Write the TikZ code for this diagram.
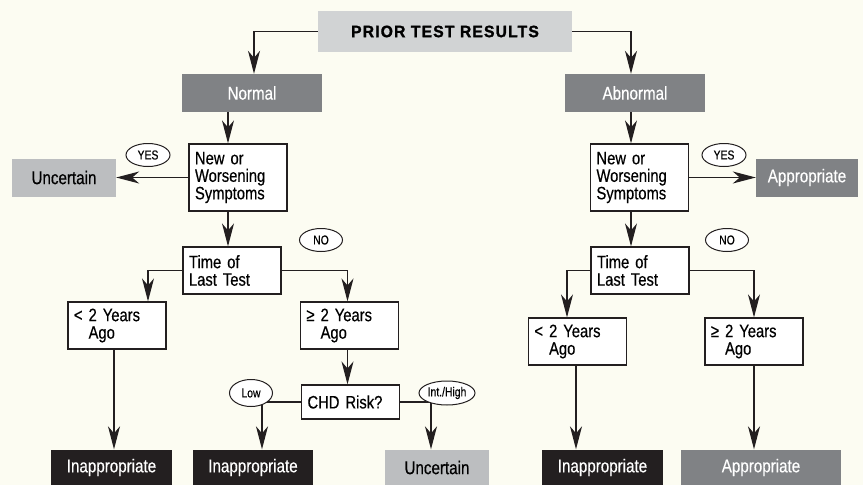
\documentclass[tikz,border=0pt]{standalone}
\usepackage{fontspec}
\setmainfont[FakeStretch=0.82,FakeBold=0.4]{Liberation Sans}
\newfontfamily\headfont[FakeStretch=0.95,LetterSpace=7,FakeBold=1.5]{Liberation Sans}
\newfontfamily\smallfont[FakeStretch=0.8,FakeBold=0.3]{Liberation Sans}
\usetikzlibrary{
    arrows.meta,
    shapes.geometric,
    calc,
    positioning
}
\definecolor{paper}{HTML}{FCFCF2}
\definecolor{titlegray}{HTML}{D1D3D4}
\definecolor{midgray}{HTML}{808285}
\definecolor{lightgray}{HTML}{BCBEC0}
\definecolor{inkblack}{HTML}{231F20}
\tikzset{
    box/.style={draw=inkblack, fill=white, line width=1.2pt, align=left,
        text width=86pt, inner xsep=6pt, inner ysep=0pt,
        font=\fontsize{18}{17.5}\selectfont},
    result/.style={inner sep=0pt, minimum height=36pt,
        font=\fontsize{18.5}{18.5}\selectfont},
    answer/.style={ellipse, draw=inkblack, fill=white, line width=1pt,
        inner sep=0pt, minimum height=23pt, font=\smallfont\fontsize{13}{13}\selectfont},
    flow/.style={draw=inkblack, line width=1.2pt,
        -{Stealth[length=23pt, width=12pt, inset=7pt]}}
}

\begin{document}
\begin{tikzpicture}[x=1pt, y=-1pt]
    \useasboundingbox[fill=paper] (0,0) rectangle (863,485);
    \node[result, fill=titlegray, minimum width=254pt, minimum height=41pt,
        font=\headfont\bfseries\fontsize{16.5}{16.5}\selectfont] (title) at (445, 31.5) {PRIOR TEST RESULTS};
    \node[result, fill=midgray, text=white, minimum width=140pt, minimum height=38pt] (normal) at (252, 93) {Normal};
    \node[result, fill=midgray, text=white, minimum width=140pt, minimum height=38pt] (abnormal) at (635, 93) {Abnormal};

    % normal branch
    \node[box, minimum height=67pt] (nwsL) at (238, 177.5) {New or\\Worsening\\Symptoms};
    \node[result, fill=lightgray, minimum width=104pt, minimum height=38pt] (uncL) at (64, 177.5) {Uncertain};
    \node[box, minimum height=47pt] (timeL) at (232, 270.5) {Time of\\Last Test};
    \node[box, minimum height=47pt] (lessL) at (117, 325.5) {< 2 Years\\\hphantom{< }Ago};
    \node[box, minimum height=47pt] (geqL) at (349.5, 325.5) {≥ 2 Years\\\hphantom{≥ }Ago};
    \node[box, minimum height=34pt] (chd) at (350.5, 402) {CHD Risk?};
    \node[result, fill=inkblack, text=white, minimum width=121pt] (inapL1) at (111.5, 467.5) {Inappropriate};
    \node[result, fill=inkblack, text=white, minimum width=120pt] (inapL2) at (253, 467.5) {Inappropriate};
    \node[result, fill=lightgray, minimum width=104pt] (uncB) at (437, 467.5) {Uncertain};

    % abnormal branch
    \node[box, minimum height=67pt] (nwsR) at (639.5, 177.5) {New or\\Worsening\\Symptoms};
    \node[result, fill=midgray, text=white, minimum width=102pt, minimum height=38pt] (apprR) at (807, 177.5) {Appropriate};
    \node[box, minimum height=47pt] (timeR) at (640, 270.5) {Time of\\Last Test};
    \node[box, minimum height=47pt] (lessR) at (577.5, 341.5) {< 2 Years\\\hphantom{< }Ago};
    \node[box, minimum height=47pt] (geqR) at (754, 341.5) {≥ 2 Years\\\hphantom{≥ }Ago};
    \node[result, fill=inkblack, text=white, minimum width=121pt] (inapR) at (602.5, 467.5) {Inappropriate};
    \node[result, fill=midgray, text=white, minimum width=160pt] (apprB) at (761, 467.5) {Appropriate};

    \draw[flow] (title.west) -| ([xshift=2pt]normal.north);
    \draw[flow] (title.east) -| ([xshift=-4pt]abnormal.north);
    \draw[flow] ([xshift=-10pt]nwsL.north |- normal.south) -- ([xshift=-10pt]nwsL.north);
    \draw[flow] (nwsL.west) -- (uncL.east);
    \draw[flow] ([xshift=-10pt]nwsL.south) -- ([xshift=-10pt]nwsL.south |- timeL.north);
    \draw[flow] (timeL.west) -| ([xshift=31pt]lessL.north);
    \draw[flow] (timeL.east) -| ([xshift=-2pt]geqL.north);
    \draw[flow] ([xshift=-3pt]lessL.south) -- ([xshift=-3pt]lessL.south |- inapL1.north);
    \draw[flow] ([xshift=-2pt]geqL.south) -- ([xshift=-2pt]geqL.south |- chd.north);
    \draw[flow] (chd.west) -| ([xshift=9pt]inapL2.north);
    \draw[flow] (chd.east) -| ([xshift=-6pt]uncB.north);

    \draw[flow] ([xshift=-8.5pt]nwsR.north |- abnormal.south) -- ([xshift=-8.5pt]nwsR.north);
    \draw[flow] (nwsR.east) -- (apprR.west);
    \draw[flow] ([xshift=-8.5pt]nwsR.south) -- ([xshift=-8.5pt]nwsR.south |- timeR.north);
    \draw[flow] (timeR.west) -| ([xshift=-10.5pt]lessR.north);
    \draw[flow] (timeR.east) -| (geqR.north);
    \draw[flow] ([xshift=-1.5pt]lessR.south) -- ([xshift=-1.5pt]lessR.south |- inapR.north);
    \draw[flow] (geqR.south) -- (geqR.south |- apprB.north);

    % answer labels
    \node[answer, minimum width=44pt] (yesL) at (148, 155) {YES};
    \node[answer, minimum width=43pt] (noL) at (321, 240) {NO};
    \node[answer, minimum width=43pt, minimum height=27pt] (low) at (251, 393) {Low};
    \node[answer, minimum width=56pt, minimum height=24pt] (inthigh) at (447, 393) {Int./High};
    \node[answer, minimum width=44pt] (yesR) at (724, 155) {YES};
    \node[answer, minimum width=43pt] (noR) at (727, 240) {NO};
\end{tikzpicture}
\end{document}
